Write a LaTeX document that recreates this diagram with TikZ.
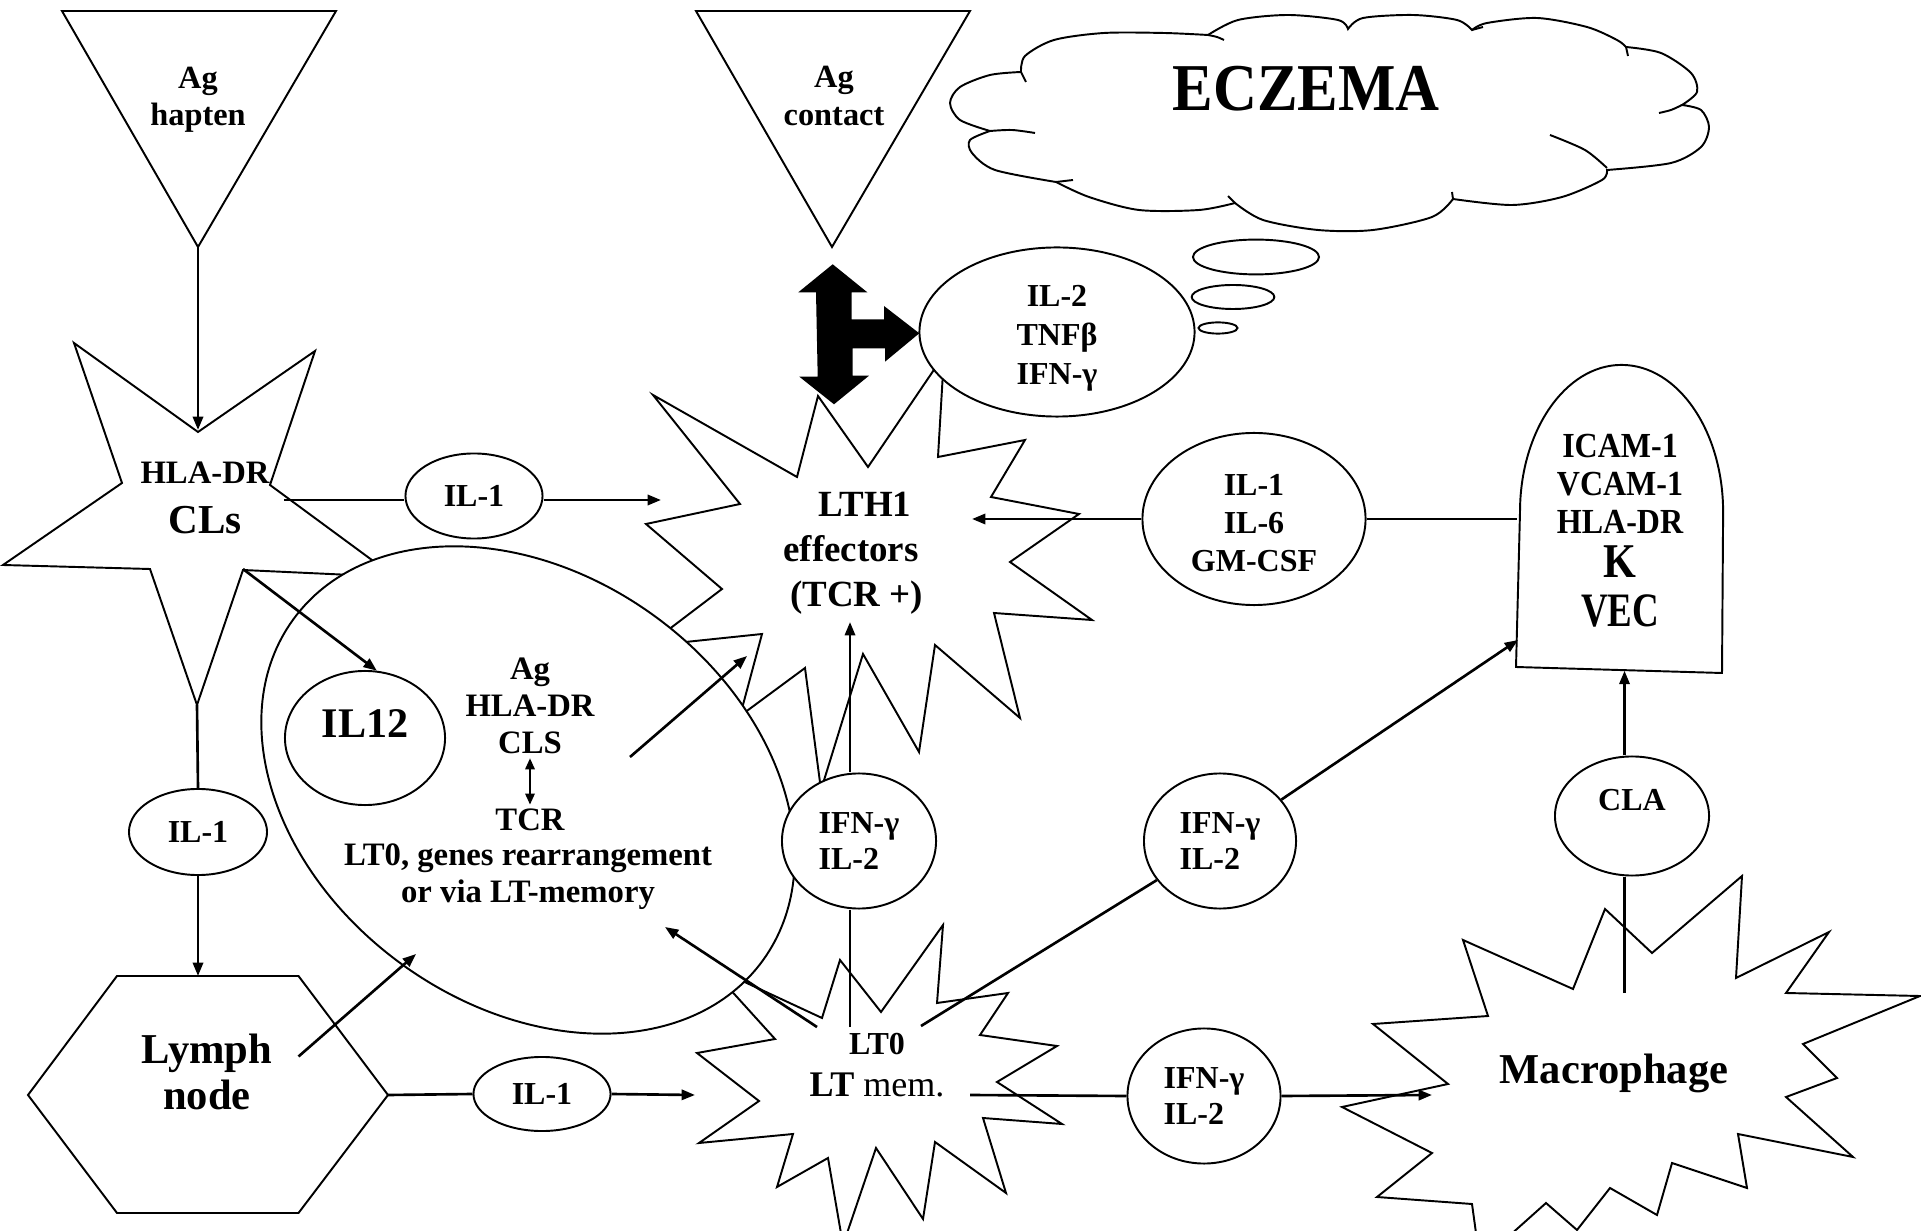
\documentclass[tikz,border=0pt]{standalone}
\usepackage{fontspec}
\usepackage{graphicx}
\setmainfont{Liberation Serif}
\usetikzlibrary{arrows.meta,shapes.geometric,calc}
\newcommand{\Fs}[2]{\fontsize{#1}{#2}\selectfont\bfseries}
\newcommand{\Tall}[2]{\scalebox{1}[#1]{#2}}
\newcommand{\Lower}[2]{\raisebox{#1}[\height][\depth]{\begin{tabular}{@{}c@{}}#2\end{tabular}}}

\begin{document}
\begin{tikzpicture}[x=0.01cm,y=-0.01cm,
  outl/.style={draw=black,line width=0.55pt,fill=white},
  tail/.style={line width=0.55pt},
  wire/.style={line width=0.75pt},
  arr/.style={wire,-{Triangle[length=3.8pt,width=2.9pt]}},
  darr/.style={wire,{Triangle[length=3.2pt,width=2.6pt]}-{Triangle[length=3.2pt,width=2.6pt]}},
  cyt/.style={ellipse,draw,line width=0.55pt,fill=white,inner sep=0pt,align=center,font=\Fs{9.1pt}{10.5pt}},
  lbl/.style={inner sep=1pt,align=center,font=\Fs{9.2pt}{10.6pt}}]
\useasboundingbox (0,0) rectangle (1921,1231);
\clip (0,0) rectangle (1921,1231);

\draw[outl] (62,11) -- (336,11) -- (198,247) coordinate (hapTip) -- cycle;
\node[lbl] (hapten) at (198,100) {Ag\\hapten};
\draw[outl] (696,11) -- (970,11) -- (832,247) -- cycle;
\node[lbl] (contact) at (834,96) {Ag\\contact};

\draw[outl] plot[smooth] coordinates {(1021,72) (1025,56) (1054,40) (1104,33) (1164,33) (1208,35)}
  -- plot[smooth] coordinates {(1208,35) (1238,20) (1288,15) (1338,20) (1348,29)}
  -- plot[smooth] coordinates {(1348,29) (1363,18) (1413,15) (1457,20) (1472,30)}
  -- plot[smooth] coordinates {(1472,30) (1487,23) (1537,18) (1587,27) (1617,40) (1626,47)}
  -- plot[smooth] coordinates {(1626,47) (1661,53) (1691,73) (1697,92) (1682,105)}
  -- plot[smooth] coordinates {(1682,105) (1701,110) (1709,127) (1701,147) (1671,163) (1607,170)}
  -- plot[smooth] coordinates {(1607,170) (1602,180) (1562,197) (1512,205) (1453,199)}
  -- plot[smooth] coordinates {(1453,199) (1432,217) (1373,230) (1318,230) (1263,220) (1235,203)}
  -- plot[smooth] coordinates {(1235,203) (1199,210) (1139,210) (1089,197) (1056,182)}
  -- plot[smooth] coordinates {(1056,182) (995,170) (972,153) (970,140) (990,131)}
  -- plot[smooth] coordinates {(990,131) (960,120) (950,103) (960,87) (990,75) (1021,72)} -- cycle;
\draw[tail] (1021,72) -- (1026,82);
\draw[tail] plot[smooth] coordinates {(1208,35) (1217,37) (1224,40)};
\draw[tail] (1472,30) -- (1483,27);
\draw[tail] (1626,47) -- (1628,56);
\draw[tail] plot[smooth] coordinates {(1682,105) (1671,110) (1659,113)};
\draw[tail] plot[smooth] coordinates {(1607,168) (1585,150) (1550,135)};
\draw[tail] (1453,199) -- (1452,192);
\draw[tail] (1235,203) -- (1228,196);
\draw[tail] (1056,182) -- (1073,180);
\draw[tail] plot[smooth] coordinates {(990,131) (1012,130) (1035,133)};
\node[inner sep=0pt,font=\Fs{17.3pt}{20pt}] (eczema) at (1306,89) {\Tall{1.1}{ECZEMA}};
\draw[outl] (1256,257) ellipse[x radius=0.63cm,y radius=0.174cm];
\draw[outl] (1233,297) ellipse[x radius=0.413cm,y radius=0.12cm];
\draw[outl] (1218,328) ellipse[x radius=0.195cm,y radius=0.056cm];

\draw[outl] (74,343) -- (198,432) -- (315,351) -- (270,485) -- (395,577) -- (243,570) -- (197,705)
  -- (150,569) -- (3,565) -- (122,483) -- cycle;
\node[inner sep=0pt,align=center,font=\Fs{9.3pt}{14.2pt}] (cls) at (205,498)
  {HLA-DR\\{\fontsize{11.7pt}{14.2pt}\selectfont CLs}};
\coordinate (clsTop) at (198,430);
\coordinate (clsR) at (284,500);
\coordinate (clsIn) at (243,569);
\coordinate (clsB) at (197,705);

\draw[outl] (653,395) -- (797,477) -- (818,396) -- (868,467) -- (944,355) -- (938,457) -- (1025,440)
  -- (991,497) -- (1079,514) -- (1010,562) -- (1092,620) -- (994,613) -- (1020,718) -- (935,645)
  -- (919,752) -- (863,654) -- (821,790) -- (805,668) -- (740,716) -- (762,634) -- (647,646)
  -- (722,589) -- (646,524) -- (740,504) -- cycle;
\node[inner sep=0pt,align=center,font=\Fs{10.5pt}{12.8pt}] (lth1) at (851,553.5)
  {\hspace*{0.75em}LTH1\\effectors\\\hspace*{0.3em}(TCR +)};
\coordinate (lthW) at (661,500);
\coordinate (lthE) at (972,519);
\coordinate (lthS) at (850,622);
\coordinate (lthSW) at (747,656);

\draw[outl] (708,965) -- (822,1018) -- (840,960) -- (881,1012) -- (943,925) -- (937,1003) -- (1008,993)
  -- (980,1035) -- (1057,1046) -- (997,1082) -- (1062,1124) -- (983,1118) -- (1006,1193) -- (935,1142)
  -- (923,1219) -- (876,1148) -- (843,1245) -- (828,1158) -- (777,1187) -- (793,1134) -- (699,1143)
  -- (759,1101) -- (697,1053) -- (775,1039) -- cycle;
\node[inner sep=0pt,align=center,font=\Fs{9.1pt}{11.9pt}] (lt0) at (877,1065)
  {LT0\\{\fontsize{10.25pt}{11.9pt}\selectfont LT \mdseries mem.}};
\coordinate (lt0W) at (695,1095);
\coordinate (lt0N) at (850,1027);
\coordinate (lt0NW) at (817,1027);
\coordinate (lt0NE) at (921,1026);
\coordinate (lt0E) at (970,1095);

\draw[outl] (1605,909) -- (1652,953) -- (1742,876) -- (1736,978) -- (1829,932) -- (1786,993)
  -- (1920,996) -- (1803,1044) -- (1837,1078) -- (1786,1097) -- (1853,1157) -- (1738,1134)
  -- (1747,1188) -- (1672,1163) -- (1657,1215) -- (1610,1188) -- (1577,1230) -- (1546,1203)
  -- (1480,1262) -- (1472,1204) -- (1377,1197) -- (1432,1153) -- (1342,1107) -- (1448,1084)
  -- (1373,1024) -- (1488,1016) -- (1463,940) -- (1573,989) -- cycle;
\node[inner sep=0pt,font=\Fs{12.1pt}{14pt}] (macro) at (1614,1073) {Macrophage};
\coordinate (macW) at (1432,1095);
\coordinate (macN) at (1624.5,993);

\node[outl,ellipse,minimum width=5.8cm,minimum height=4.3cm,rotate=-36,inner sep=0pt] (cell) at (528,790) {};
\node[cyt,minimum width=1.6cm,minimum height=1.34cm,font=\Fs{12pt}{14pt}] (il12) at (365,738) {\smash{IL12}};
\node[lbl,font=\Fs{9.3pt}{10.5pt}] (agcls) at (530,706) {Ag\\HLA-DR\\CLS};
\node[lbl,font=\Fs{9.3pt}{10.5pt}] (tcr) at (530,820) {TCR};
\node[lbl,font=\Fs{9.3pt}{10.5pt}] (rearr) at (528,877) {LT0, genes rearrangement\\or via LT-memory};
\coordinate (cellIn) at (416,954);
\coordinate (cellOut) at (630,757);
\coordinate (memTip) at (665,927);

\node[cyt,minimum width=2.75cm,minimum height=1.69cm,font=\Fs{9.1pt}{11pt}] (cyto2) at (1057,332)
  {\Lower{-1.65pt}{IL-2\\TNFβ\\IFN-γ}};
\node[cyt,align=left,minimum width=1.54cm,minimum height=1.35cm] (ifn1) at (859,841) {IFN-γ\\IL-2};
\node[cyt,align=left,minimum width=1.52cm,minimum height=1.35cm] (ifn2) at (1220,841) {IFN-γ\\IL-2};
\node[cyt,align=left,minimum width=1.53cm,minimum height=1.35cm] (ifn3) at (1204,1096) {IFN-γ\\IL-2};
\node[cyt,minimum width=2.23cm,minimum height=1.72cm,font=\Fs{9.1pt}{10.9pt}] (cyto6) at (1254,519)
  {\Lower{-1.95pt}{IL-1\\IL-6\\GM-CSF}};
\node[cyt,minimum width=1.54cm,minimum height=1.19cm] (cla) at (1632,816) {\smash{\raisebox{1.6pt}{CLA}}};
\node[cyt,minimum width=1.37cm,minimum height=0.85cm] (il1a) at (474,496) {IL-1};
\node[cyt,minimum width=1.38cm,minimum height=0.86cm] (il1b) at (198,832) {IL-1};
\node[cyt,minimum width=1.37cm,minimum height=0.74cm] (il1c) at (542,1094) {IL-1};

\fill (832.7,264.3) -- (867.3,292.3) -- (851.7,292.3) -- (851.7,319.3) -- (884,319.3) -- (884,306)
  -- (919.3,333.3) -- (885,361.7) -- (885,348.3) -- (852.7,348.3) -- (852.7,375.7) -- (869,375.7)
  -- (834,404.3) -- (799.3,376.7) -- (817.7,376.7) -- (816,292.3) -- (798.3,292.3) -- cycle;

\draw[outl] (117,976) -- (298.5,976) -- (388,1095) -- (298.5,1213) -- (117,1213) -- (28,1095) -- cycle;
\node[inner sep=0pt,align=center,font=\Fs{12.1pt}{13pt}] (lymph) at (207,1072) {Lymph\\node};
\coordinate (lymphTop) at (198,976);
\coordinate (lymphR) at (388,1095);
\coordinate (lymphOut) at (298.5,1056.5);

\path (1620,591) node[minimum width=2.04cm,minimum height=1.58cm,inner sep=0pt] (vec) {};
\draw[outl] (1516,667) -- (1520,512) arc[start angle=180,end angle=0,x radius=1.015cm,y radius=1.47cm]
  -- (1722,673) -- cycle;
\node[inner sep=0pt,align=center,font=\Fs{9.1pt}{10.8pt}] (vectxt) at (1620,531)
  {\Tall{1.1}{ICAM-1}\\\Tall{1.1}{VCAM-1}\\\Tall{1.1}{HLA-DR}\\[1.8pt]
   {\fontsize{12pt}{10.8pt}\selectfont\Tall{1.15}{K}}\\[3.1pt]{\fontsize{10.5pt}{10.8pt}\selectfont\Tall{1.3}{VEC}}};
\coordinate (vecIn) at (1518,640);

\draw[arr] (hapTip) -- (clsTop);
\draw[wire] (clsR) -- (il1a.west |- clsR);
\draw[arr] (il1a.east |- clsR) -- (lthW);
\draw[arr] (clsIn) -- (il12.80);
\draw[wire] (clsB) -- (il1b.north);
\draw[arr] (il1b.south) -- (lymphTop);
\draw[arr] (lymphOut) -- (cellIn);
\draw[wire] (lymphR) -- (il1c.west);
\draw[arr] (il1c.east) -- (lt0W);
\draw[arr] (cellOut) -- (lthSW);
\draw[arr] (lt0NW) -- (memTip);
\draw[wire] (lt0N) -- (ifn1.south -| lt0N);
\draw[arr] (ifn1.north -| lt0N) -- (lthS);
\draw[wire] (lt0NE) -- (ifn2);
\draw[arr] (ifn2) -- (vecIn);
\draw[wire] (lt0E) -- (ifn3.west);
\draw[arr] (ifn3.east) -- (macW);
\draw[wire] (macN) -- (cla.south -| macN);
\draw[arr] (cla.north -| macN) -- (vec.south -| macN);
\draw[wire] (cyto6.east) -- (cyto6.east -| vec.west);
\draw[arr] (cyto6.west) -- (lthE);
\draw[darr] (agcls.south) -- (tcr.north);
\end{tikzpicture}
\end{document}
